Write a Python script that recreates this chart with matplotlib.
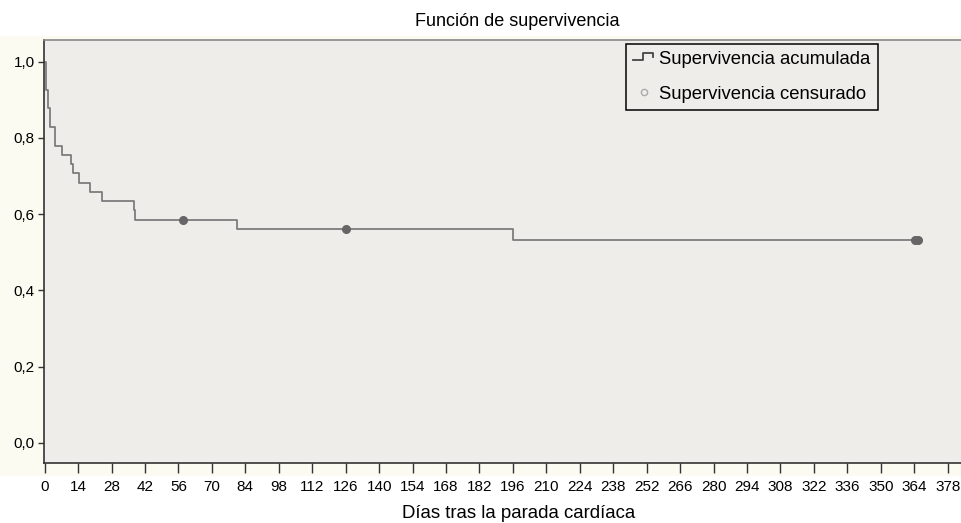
import matplotlib
matplotlib.use("Agg")
import matplotlib.pyplot as plt
from matplotlib.lines import Line2D
from matplotlib.patches import Rectangle
from matplotlib.legend_handler import HandlerBase

# Kaplan-Meier estimate
event_days = [0, 0.5, 1.3, 2.3, 4.2, 7.2, 11.1, 11.8, 14.2, 19.1, 24.1, 37.2, 38.0, 80.3, 196.1, 365.5]
survival   = [1.0, 0.927, 0.878, 0.829, 0.780, 0.756, 0.732, 0.707, 0.683, 0.659, 0.634, 0.610, 0.585, 0.560, 0.533, 0.533]
censor_days = [58.0, 126.1, 364.3, 365.5]
censor_surv = [0.585, 0.560, 0.533, 0.533]

xticks = list(range(0, 379, 14))
yticks = [0.0, 0.2, 0.4, 0.6, 0.8, 1.0]
ytick_labels = ["0,0", "0,2", "0,4", "0,6", "0,8", "1,0"]

title = "Función de supervivencia"
xlabel = "Días tras la parada cardíaca"
legend_labels = ["Supervivencia acumulada", "Supervivencia censurado"]

line_color = "#7d7d7d"
censor_color = "#666666"
bg = "#eeede9"

plt.rcParams['font.family'] = ['Liberation Sans', 'DejaVu Sans']

fig = plt.figure(figsize=(9.62, 5.23), dpi=100)
fig.patches.append(Rectangle((0, 1-476/523), 1, (476-36)/523, transform=fig.transFigure,
                             facecolor="#fcfbf1", edgecolor="none", zorder=-10))
ax = fig.add_axes([44/962, 1-463/523, 1-44/962, (463-40)/523])
ax.set_facecolor(bg)

ax.step(event_days, survival, where="post", color=line_color, lw=1.3)
ax.plot(censor_days, censor_surv, "o", color=censor_color, ms=5.5, mec=censor_color)

ax.set_xlim(-0.3, 384)
ax.set_ylim(-0.053, 1.057)
ax.set_xticks(xticks)
ax.set_xticklabels([str(t) for t in xticks], fontsize=11)
ax.set_yticks(yticks)
ax.set_yticklabels(ytick_labels, fontsize=11)
ax.tick_params(axis="x", length=7.5, width=1, color="#333333", pad=4.5)
ax.tick_params(axis="y", length=4.5, width=1, color="#333333", pad=2)

for s in ["left", "bottom"]:
    ax.spines[s].set_color("#333333")
    ax.spines[s].set_linewidth(1.2)
ax.spines["top"].set_color("#888888")
ax.spines["top"].set_linewidth(1.2)
ax.spines["right"].set_visible(False)

fig.text(517/962, 1-21/523, title, ha="center", va="center", fontsize=13)
fig.text(519/962, 1-514/523, xlabel, ha="center", va="center", fontsize=13.4)


class StepHandler(HandlerBase):
    def create_artists(self, legend, orig_handle, xdescent, ydescent, width, height, fontsize, trans):
        w, h = width, height
        xs = [-xdescent + 0.0*w, -xdescent + 0.45*w, -xdescent + 0.45*w, -xdescent + 0.95*w, -xdescent + 0.95*w]
        ys = [-ydescent + 0.35*h, -ydescent + 0.35*h, -ydescent + 0.85*h, -ydescent + 0.85*h, -ydescent + 0.55*h]
        ln = Line2D(xs, ys, color="#444444", lw=1.3, transform=trans)
        return [ln]


h1 = Line2D([], [], color=line_color)
h2 = Line2D([], [], ls="none", marker="o", ms=4.5, mfc="none", mec="#aaaaaa")
leg = ax.legend([h1, h2], legend_labels, handler_map={h1: StepHandler()},
                loc="upper left", bbox_to_anchor=((626-44)/918, 1-(44-40)/423),
                fontsize=13.3, frameon=True, fancybox=False, framealpha=1,
                edgecolor="black", facecolor=bg, handlelength=1.1, handletextpad=0.3,
                borderpad=0.4, labelspacing=0.93, borderaxespad=0)
leg.get_frame().set_linewidth(1.1)

fig.savefig("out.png", dpi=100, facecolor="white")
